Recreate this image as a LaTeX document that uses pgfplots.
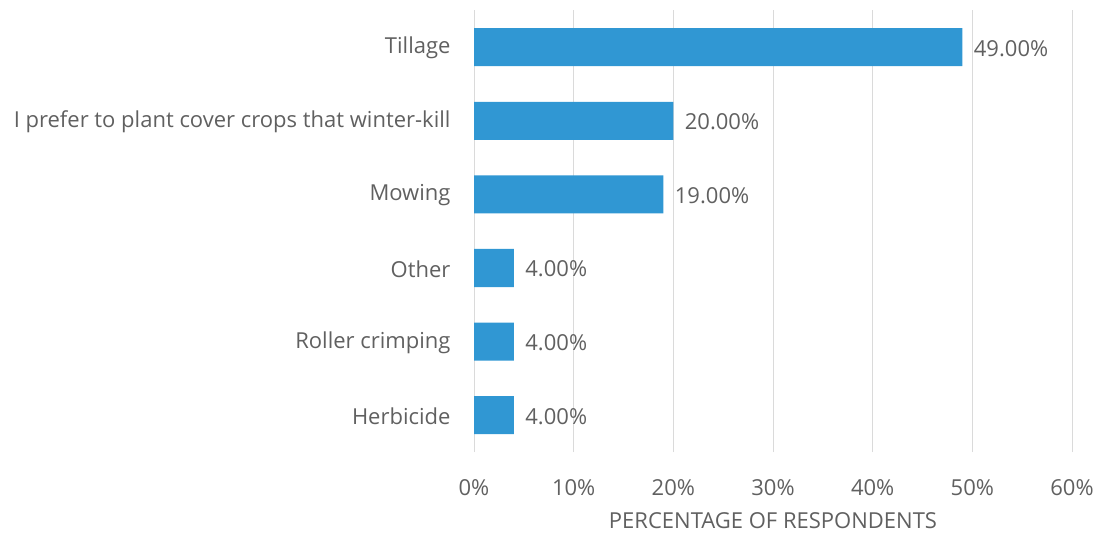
\documentclass[border=0pt]{standalone}
\usepackage{pgfplots}
\pgfplotsset{compat=1.18}
\usepackage{fontspec}
\setmainfont{Open Sans}
\definecolor{barblue}{HTML}{3097D3}
\definecolor{txtgray}{HTML}{606060}
\definecolor{gridgray}{HTML}{DADADA}
\begin{document}
\begin{tikzpicture}
\useasboundingbox (0,0) rectangle (1099pt,535pt);
\begin{axis}[
  at={(474pt,83pt)}, anchor=south west,
  scale only axis, width=598pt, height=441.6pt,
  xbar, bar width=38pt,
  xmin=0, xmax=60, ymin=-0.5, ymax=5.5,
  xtick={0,10,...,60},
  xticklabel={\pgfmathprintnumber{\tick}\%},
  /pgf/number format/assume math mode=true,
  ytick={0,...,5},
  yticklabels={Herbicide,Roller crimping,Other,Mowing,I prefer to plant cover crops that winter-kill,Tillage},
  axis line style={draw=none},
  major tick length=0pt,
  xmajorgrids, grid style={gridgray, line width=1pt},
  ticklabel style={font=\fontsize{22}{26}\selectfont, text=txtgray},
  yticklabel style={xshift=-20pt, yshift=-1pt},
  xticklabel style={yshift=-24pt},
  xlabel={PERCENTAGE OF RESPONDENTS},
  xlabel style={font=\fontsize{22}{26}\selectfont, text=txtgray, yshift=-10pt},
  nodes near coords={\pgfmathprintnumber[fixed,fixed zerofill,precision=2]{\pgfplotspointmeta}\%},
  nodes near coords style={font=\fontsize{22}{26}\selectfont, text=txtgray, anchor=west, xshift=8pt, yshift=-1pt},
  point meta=x,
  clip=false,
]
\addplot[fill=barblue, draw=none] coordinates {
  (4,0) (4,1) (4,2) (19,3) (20,4) (49,5)
};
\end{axis}
\end{tikzpicture}
\end{document}
